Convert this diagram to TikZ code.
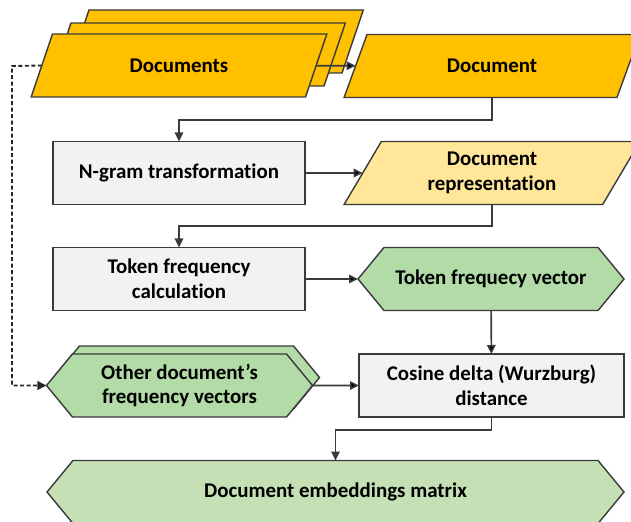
\documentclass[tikz,border=0pt]{standalone}
\usepackage{fontspec}
\setmainfont{Carlito}[Ligatures=NoCommon]
\usetikzlibrary{shapes.geometric,shapes.symbols,arrows.meta}
\definecolor{docgold}{HTML}{FFC000}
\definecolor{replight}{HTML}{FFE699}
\definecolor{boxgrey}{HTML}{F2F2F2}
\definecolor{vecgreen}{HTML}{B2DBA7}
\definecolor{matgreen}{HTML}{C5E0B4}
\definecolor{edgegrey}{HTML}{3A3A3A}

\begin{document}
\begin{tikzpicture}[x=1bp, y=-1bp, >={Triangle[length=9bp,width=8.5bp]},
    every node/.style = {font=\fontsize{21}{25}\selectfont\bfseries, align=center,
        draw=edgegrey, line width=1.4bp, inner sep=2bp, outer sep=0pt},
    para/.style = {trapezium, trapezium left angle=64, trapezium right angle=116,
        trapezium stretches=true, minimum width=296bp, minimum height=63bp},
    proc/.style = {rectangle, fill=boxgrey, minimum width=252bp, minimum height=63bp},
    vec/.style = {signal, signal to=west and east, signal pointer angle=101,
        fill=vecgreen, minimum width=266bp, minimum height=63bp},
    link/.style = {line width=1.6bp, draw=edgegrey}]
            \useasboundingbox (0,0) rectangle (631,522);
            \clip (0,0) rectangle (631,522);
            % stack of documents
            \node[para, fill=docgold] (docs3) at (215.5,41.5) {\phantom{Documents}};
            \node[para, fill=docgold] (docs2) at (197.5,54.5) {\phantom{Documents}};
            \node[para, fill=docgold] (docs) at (179,65.5) {Documents};
            \node[para, fill=docgold] (doc) at (492,66) {Document};
            \node[proc] (ngram) at (179,173) {N-gram transformation};
            \node[para, fill=replight] (rep) at (492,173) {Document\\representation};
            \node[proc] (token) at (179,279) {Token frequency\\calculation};
            \node[vec] (tvec) at (491,279) {Token frequecy vector};
            \node[vec] (other2) at (186.5,377.5) {\phantom{frequency vectors}};
            \node[vec] (other) at (179.5,385.5) {Other document’s\\frequency vectors};
            \node[proc, minimum width=265bp] (cosine) at (491.5,385.5) {Cosine delta (Wurzburg)\\distance};
            \node[vec, fill=matgreen, minimum width=577bp] (matrix) at (335.5,492) {Document embeddings matrix};
            \coordinate (loop) at (12,66);
            \path[->,link]
            (docs) edge (doc)
            (ngram) edge (rep)
            (token) edge (tvec)
            (tvec) edge (cosine)
            (other) edge (cosine);
            \draw[->,link] (doc.south) -- ++(0,22.5) -| (ngram.north);
            \draw[->,link] (rep.south) -- ++(0,21.5) -| (token.north);
            \draw[->,link] (cosine.south) -- ++(0,13) -| (matrix.north);
            \draw[->,link, line width=1.9bp, draw=black!85, dash pattern=on 4bp off 2.5bp] (docs.west) -- (loop) |- (other.west);
        \end{tikzpicture}
\end{document}
